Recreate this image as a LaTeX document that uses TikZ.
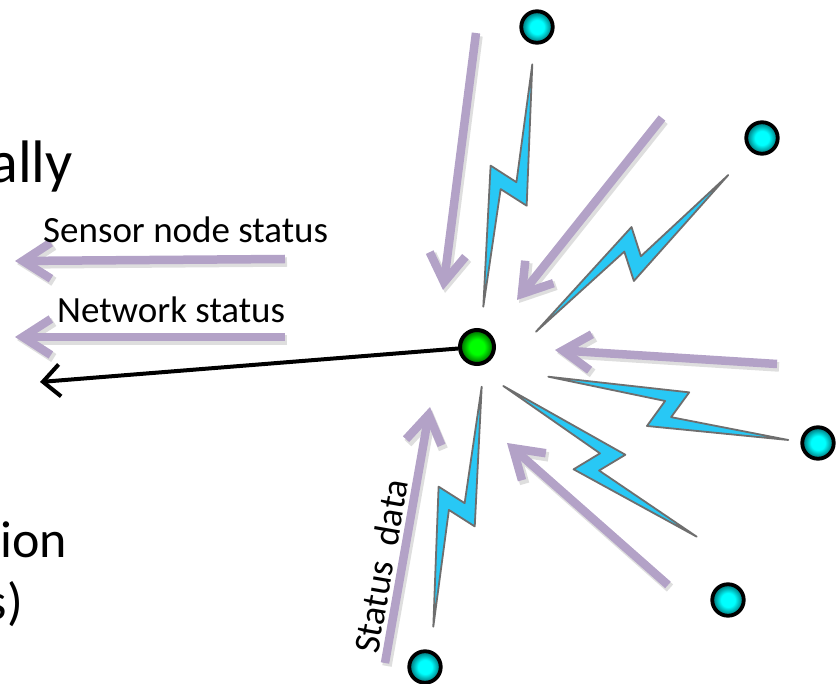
\documentclass[tikz,border=0pt]{standalone}
\usepackage{fontspec}
\setmainfont{Carlito}
\usetikzlibrary{calc,arrows.meta}
\definecolor{lav}{RGB}{179,162,199}
\definecolor{boltfill}{RGB}{40,200,245}
\definecolor{boltline}{RGB}{110,110,110}
\definecolor{cyc}{RGB}{0,255,255}
\definecolor{cyd}{RGB}{0,105,110}
\definecolor{grc}{RGB}{0,255,0}
\definecolor{grd}{RGB}{0,95,0}
\pgfdeclareradialshading{cyanball}{\pgfpoint{0bp}{0bp}}{color(0bp)=(cyc); color(11bp)=(cyc); color(25bp)=(cyd); color(50bp)=(cyd)}
\pgfdeclareradialshading{greenball}{\pgfpoint{0bp}{0bp}}{color(0bp)=(grc); color(11bp)=(grc); color(25bp)=(grd); color(50bp)=(grd)}
\newcommand\lightbolt[2]{%
  \path ($(#1)!0.565!(#2)$) coordinate (bA0)
        ($(#1)!0.52!(#2)$) coordinate (bB0)
        ($(#1)!0.435!(#2)$) coordinate (bD0)
        ($(#1)!0.48!(#2)$) coordinate (bF0);
  \path ($(bA0)!22.5pt!90:(#2)$) coordinate (bA)
        ($(bB0)!6.3pt!-90:(#2)$) coordinate (bB)
        ($(bD0)!20.8pt!-90:(#2)$) coordinate (bD)
        ($(bF0)!7.8pt!90:(#2)$) coordinate (bF);
  \draw[boltstyle] (#1) -- (bA) -- (bB) -- (#2) -- (bD) -- (bF) -- cycle;}
\begin{document}
\begin{tikzpicture}[x=1pt,y=1pt,
  snode/.style={circle, draw=black, line width=3.8pt, minimum size=31.5pt, inner sep=0pt, shade, shading=cyanball},
  gnode/.style={circle, draw=black, line width=4pt, minimum size=34pt, inner sep=0pt, shade, shading=greenball},
  bigtext/.style={font=\fontsize{60}{72}\selectfont, inner sep=0pt},
  midtext/.style={font=\fontsize{52}{62}\selectfont, inner sep=0pt},
  lbl/.style={font=\fontsize{37}{44}\selectfont, inner sep=0pt},
  ptip/.style={-{Straight Barb[length=28pt,width=36pt]}},
  parrow/.style={ptip, draw=lav, line width=8.5pt},
  pshadow/.style={ptip, draw=black!13, line width=9.5pt, transform canvas={shift={(2pt,-3pt)}}},
  barrow/.style={draw=black, line width=4pt, -{Straight Barb[length=17pt,width=32pt]}},
  boltstyle/.style={fill=boltfill, draw=boltline, line width=1.8pt, line join=round}
]
\useasboundingbox (0,0) rectangle (839,-684);

% texts at the left
\node[bigtext, anchor=base east] (t1) at (73,-183) {ally};
\node[midtext, anchor=base east] (t2) at (67,-558) {ion};
\node[midtext, anchor=base east] (t3) at (23,-620) {s)};

% nodes
\node[gnode] (G) at (477,-347) {};
\node[snode] (s1) at (537,-27) {};
\node[snode] (s2) at (762,-138) {};
\node[snode] (s3) at (818,-443) {};
\node[snode] (s4) at (728,-600) {};
\node[snode] (s5) at (425,-667) {};

% arrow end points
\coordinate (a1s) at (476,-33);  \coordinate (a1e) at (443,-290);
\coordinate (a2s) at (662,-118); \coordinate (a2e) at (517,-300);
\coordinate (a3s) at (777,-364); \coordinate (a3e) at (555,-350);
\coordinate (a4s) at (668,-585); \coordinate (a4e) at (507,-443);
\coordinate (a5s) at (385,-663); \coordinate (a5e) at (430,-407);
\coordinate (a6s) at (285,-259); \coordinate (a6e) at (15,-261);
\coordinate (a7s) at (285,-337); \coordinate (a7e) at (15,-337);
\coordinate (blk) at (40,-382);

% shadows
\foreach \i in {1,...,7} {\draw[pshadow] (a\i s) -- (a\i e);}
% lavender arrows
\foreach \i in {1,...,7} {\draw[parrow] (a\i s) -- (a\i e);}

% black arrow
\draw[barrow] (G) -- (blk);

% lightning bolts
\coordinate (b1s) at (532.3,-64.3); \coordinate (b1e) at (483.3,-306.7);
\coordinate (b2s) at (728.3,-175);  \coordinate (b2e) at (536,-331.7);
\coordinate (b3s) at (788.3,-440);  \coordinate (b3e) at (548.3,-376.7);
\coordinate (b4s) at (696.7,-536.7);\coordinate (b4e) at (503.3,-386);
\coordinate (b5s) at (433.3,-626.7);\coordinate (b5e) at (481.7,-386.7);
\lightbolt{b1s}{b1e}
\lightbolt{b2s}{b2e}
\lightbolt{b3s}{b3e}
\lightbolt{b4s}{b4e}
\lightbolt{b5s}{b5e}

% labels
\node[lbl, anchor=base west] (l1) at (43,-243) {Sensor node status};
\node[lbl, anchor=base west] (l2) at (57,-323) {Network status};
\node[lbl, anchor=base west, rotate=80] (l3) at (378,-655) {Status~ data};
\end{tikzpicture}
\end{document}
